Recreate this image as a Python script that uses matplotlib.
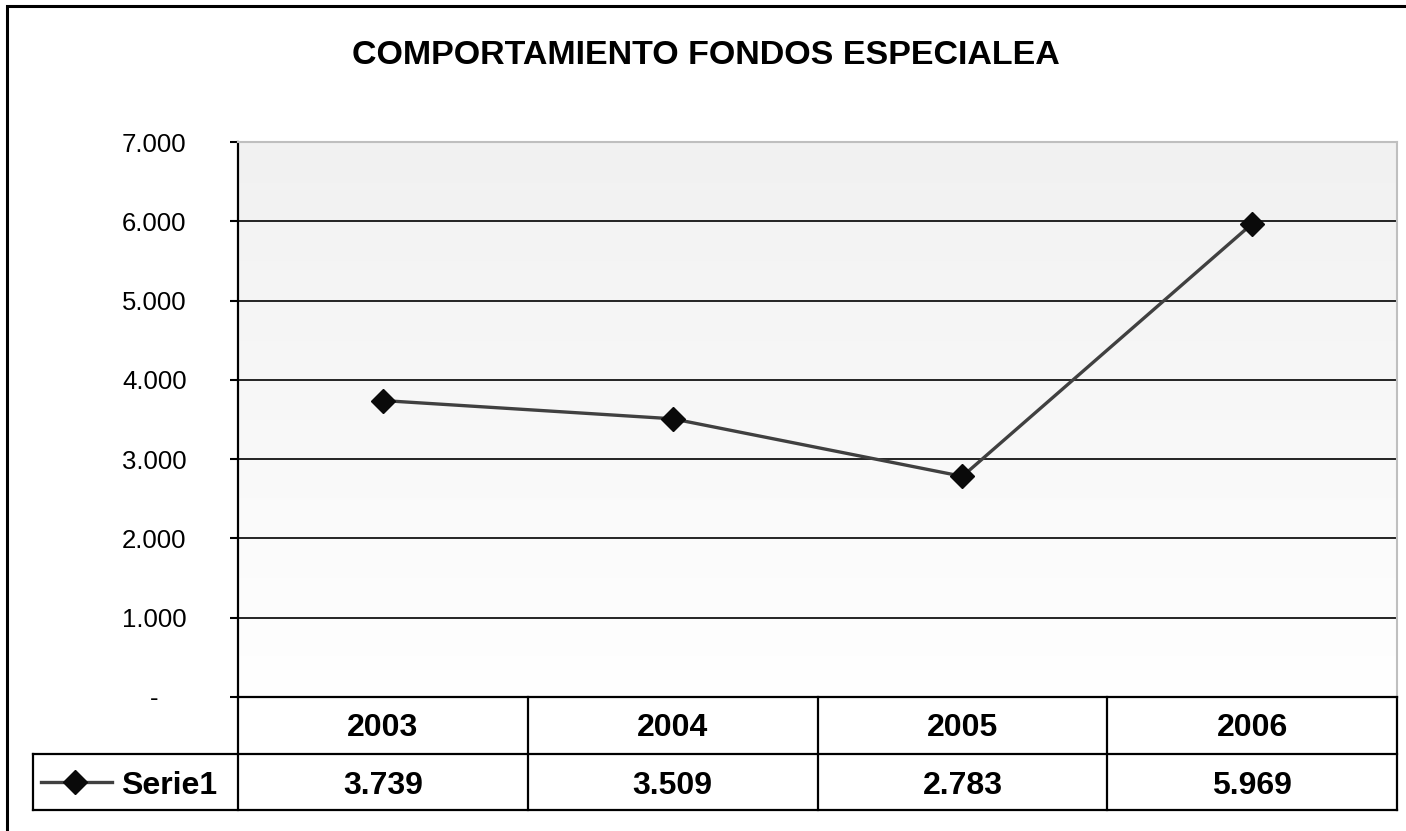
import numpy as np
import matplotlib
matplotlib.use("Agg")
import matplotlib.pyplot as plt
from matplotlib.transforms import blended_transform_factory
from matplotlib.patches import Rectangle

plt.rcParams["font.family"] = ["Liberation Sans", "DejaVu Sans"]

# data
years = ["2003", "2004", "2005", "2006"]
values = [3739, 3509, 2783, 5969]
value_labels = ["3.739", "3.509", "2.783", "5.969"]
series_name = "Serie1"
title = "COMPORTAMIENTO FONDOS ESPECIALEA"
yticks = [0, 1000, 2000, 3000, 4000, 5000, 6000, 7000]

W, H = 1406, 831
fig = plt.figure(figsize=(W / 100, H / 100), dpi=100)
ax = fig.add_axes([238 / W, 1 - 697 / H, 1159 / W, 555 / H])

x = np.arange(len(years))
ax.set_xlim(-0.5, len(years) - 0.5)
ax.set_ylim(0, 7000)

# gradient background
grad = np.linspace(0, 1, 256).reshape(-1, 1)
ax.imshow(grad, extent=[-0.5, len(years) - 0.5, 0, 7000], aspect="auto",
          cmap=matplotlib.colors.LinearSegmentedColormap.from_list("g", ["#ffffff", "#f1f1f1"]),
          origin="lower", zorder=0)

for yv in yticks[1:-1]:
    ax.axhline(yv, color="black", lw=1.2, zorder=1)

ax.plot(x, values, color="#404040", lw=2.4, marker="D", markersize=12.5,
        markerfacecolor="#0a0a0a", markeredgecolor="#0a0a0a", zorder=3)

# spines
for s in ["top", "right"]:
    ax.spines[s].set_color("#bfbfbf")
    ax.spines[s].set_linewidth(1.5)
ax.spines["left"].set_color("black")
ax.spines["left"].set_linewidth(1.6)
ax.spines["bottom"].set_color("black")
ax.spines["bottom"].set_linewidth(1.6)

ax.set_yticks(yticks)
ax.set_yticklabels(["-    "] + [f"{v // 1000}.000" for v in yticks[1:]])
ax.tick_params(axis="y", length=6, width=1.5, pad=31, labelsize=18.5)
ax.set_xticks([])

# data table
tr = blended_transform_factory(ax.transData, ax.transAxes)
r1 = -(754 - 697) / 555
r2 = -(810 - 697) / 555
leg_left = -0.5 - (238 - 33) / 289.75
right = len(years) - 0.5
kw = dict(color="black", lw=1.6, transform=tr, clip_on=False)
ax.plot([-0.5, -0.5], [0, r2], **kw)
for b in np.arange(0.5, len(years) - 0.5, 1.0):
    ax.plot([b, b], [0, r2], **kw)
ax.plot([right, right], [0, r2], **kw)
ax.plot([leg_left, right], [r1, r1], **kw)
ax.plot([leg_left, right], [r2, r2], **kw)
ax.plot([leg_left, leg_left], [r1, r2], **kw)

row1_y = -(725 - 697) / 555
row2_y = -(782 - 697) / 555
for i, (yr, lab) in enumerate(zip(years, value_labels)):
    ax.text(i, row1_y, yr, transform=tr, ha="center", va="center_baseline",
            fontsize=23, fontweight="bold")
    ax.text(i, row2_y, lab, transform=tr, ha="center", va="center_baseline",
            fontsize=23, fontweight="bold")

# legend key in table
ly = (r1 + r2) / 2
ax.plot([-1.18, -0.935], [ly, ly], color="#404040", lw=2.4, transform=tr, clip_on=False)
ax.plot([-1.063], [ly], marker="D", markersize=12, color="#0a0a0a", transform=tr, clip_on=False)
ax.text(-0.905, row2_y, series_name, transform=tr, ha="left", va="center_baseline",
        fontsize=23, fontweight="bold")

fig.text(0.502, 1 - 56 / H, title, ha="center", va="center", fontsize=24.5, fontweight="bold")

# chart border
fig.patches.append(Rectangle((7 / W, -0.1), 1.2, 1 - 6 / H + 0.1, transform=fig.transFigure,
                             fill=False, edgecolor="black", lw=2.2))

fig.savefig("out.png", dpi=100)
